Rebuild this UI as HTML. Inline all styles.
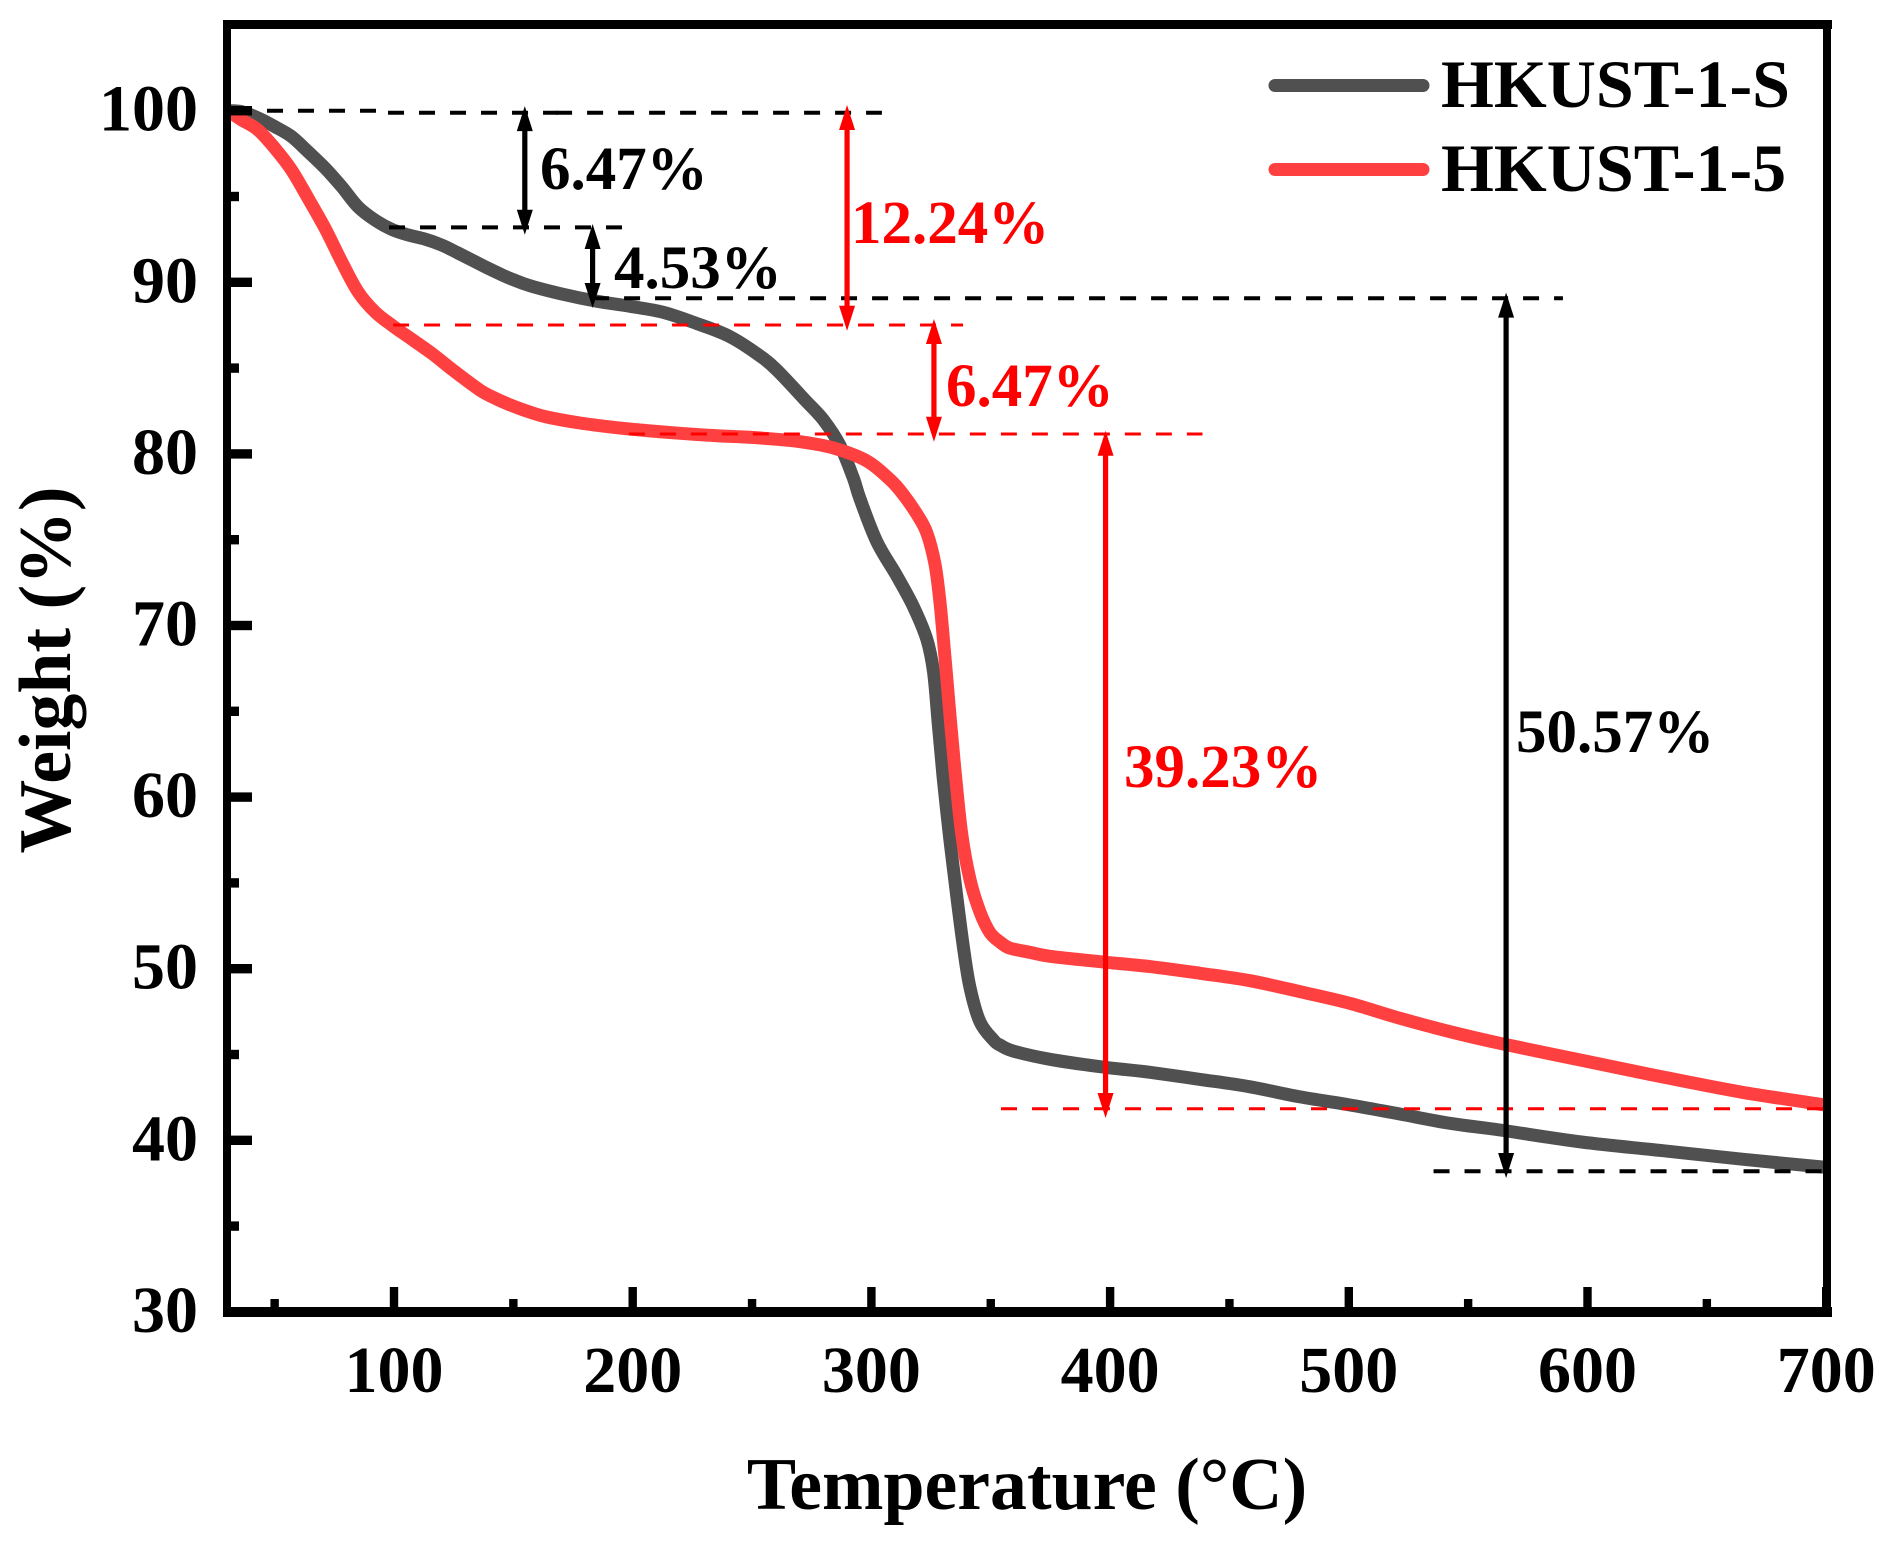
<!DOCTYPE html>
<html lang="en">
<head>
<meta charset="utf-8">
<title>TGA curves of HKUST-1-S and HKUST-1-5</title>
<style>
html,body{margin:0;padding:0;background:#fff;}
svg{display:block;}
text{font-family:"Liberation Serif",serif;font-weight:bold;fill:#000;}
.tick{font-size:66px;}
.leg{font-size:68px;}
.ann{font-size:61px;}
.title{font-size:73.8px;}
.red{fill:#f00;}
</style>
</head>
<body>
<svg id="chart" xmlns="http://www.w3.org/2000/svg" width="1890" height="1548" viewBox="0 0 1890 1548">
  <defs><clipPath id="plot-clip"><rect x="231" y="29" width="1592" height="1278"/></clipPath></defs>
  <rect width="1890" height="1548" fill="#fff"/>
  <g id="series" clip-path="url(#plot-clip)"></g>
  <g id="annotations"></g>
  <g id="ticks"></g>
  <g fill="#000">
    <rect x="223" y="20" width="8" height="1297"/>
    <rect x="1823" y="20" width="8" height="1297"/>
    <rect x="223" y="20" width="1609" height="9"/>
    <rect x="223" y="1307" width="1609" height="10"/>
  </g>
  <text class="title" x="1027" y="1509" text-anchor="middle">Temperature (°C)</text>
  <text class="title" transform="translate(70 670) rotate(-90)" text-anchor="middle">Weight (%)</text>
  <g>
    <line x1="1275" y1="85.5" x2="1423" y2="85.5" stroke="#505050" stroke-width="13" stroke-linecap="round"/>
    <text class="leg" x="1441" y="107">HKUST-1-S</text>
    <line x1="1275" y1="169.5" x2="1423" y2="169.5" stroke="#ff4040" stroke-width="13" stroke-linecap="round"/>
    <text class="leg" x="1441" y="191">HKUST-1-5</text>
  </g>
  <g>
    <text class="ann" x="540" y="189">6.47%</text>
    <text class="ann" x="614" y="288">4.53%</text>
    <text class="ann red" x="851" y="243">12.24%</text>
    <text class="ann red" x="946" y="406">6.47%</text>
    <text class="ann red" x="1124" y="787">39.23%</text>
    <text class="ann" x="1516" y="752">50.57%</text>
  </g>
</svg>
<script>
var grayTemps = [31,36.2,43,50.1,57.1,64,71.1,78.1,84.9,92,99,105.9,113,120,126.8,138.1,145,150,157,170.9,184.9,198.9,212.8,226.8,240.8,254.7,261.7,272.2,279.9,286.8,292.4,295.2,302.2,310.6,317.6,323.2,326,328,330.1,332.9,335.7,338.5,341.3,345.5,351.1,353.9,359.5,374.8,395.8,416.7,437.7,458.6,479.6,500.5,521.4,542.4,563.3,597.5,631.1,664.8,700];
var grayWeights = [100,99.94,99.58,99.07,98.49,97.61,96.66,95.57,94.4,93.63,93.09,92.76,92.52,92.17,91.71,90.91,90.45,90.15,89.8,89.3,88.9,88.6,88.25,87.6,86.83,85.57,84.7,83.14,81.98,80.5,78.6,77.4,74.9,72.9,71.1,69.2,67.3,64.3,61.1,57.5,54.3,51.3,48.9,46.9,45.85,45.55,45.2,44.72,44.29,43.96,43.55,43.12,42.53,42.06,41.53,40.99,40.6,39.9,39.4,38.9,38.42];
var redTemps = [31,32,36.2,43,50.1,57.1,64,71.1,78.1,84.9,92,99,105.9,115.8,125,136,143,150,157,164,177.9,191.9,205.9,219.8,233.8,247.8,256.1,270.1,283.9,298,307.8,313,319,323.2,326.6,328.7,330.8,332.9,335,337.8,341.3,345.5,349.7,353.9,358,366.5,374.8,395.8,416.7,437.7,458.6,479.6,500.5,521.4,542.4,563.3,597.5,631.1,664.8,700];
var redWeights = [99.9,99.85,99.46,98.88,97.81,96.54,94.9,93.15,91.2,89.45,88.28,87.51,86.83,85.86,84.85,83.72,83.2,82.78,82.43,82.15,81.8,81.55,81.36,81.2,81.07,80.98,80.9,80.71,80.35,79.6,78.5,77.7,76.5,75.4,73.6,71.4,68.2,64.8,61.6,57.9,55.2,53.3,52.1,51.55,51.2,50.95,50.72,50.41,50.12,49.73,49.3,48.66,47.98,47.11,46.33,45.65,44.66,43.7,42.8,42.05];
var xMajorTicks = [100,200,300,400,500,600,700];
var xMinorTicks = [50,150,250,350,450,550,650];
var yMajorTicks = [30,40,50,60,70,80,90,100];
var yMinorTicks = [35,45,55,65,75,85,95];
var refStartT = [46.8,97.5,167.9,97.9,183.4,535.5,99.6,198.4,354.3];
var refEndT = [92.9,168.7,304.4,196.8,589.7,698.7,338.4,438.7,699.5];
var refWeight = [100,99.88,99.88,93.2,89.07,38.2,87.51,81.16,41.84];
var refIsRed = [0,0,0,0,0,0,1,1,1];
var arrowT = [154.8,183.2,565.9,289.8,326.2,398.1];
var arrowTopW = [100.27,93.4,89.4,100.33,87.86,81.35];
var arrowBottomW = [92.77,88.5,37.8,87.18,80.71,41.3];
var arrowIsRed = [0,0,0,1,1,1];

var NS = 'http://www.w3.org/2000/svg';
function x(t){ return 394 + (t - 100) * 2.387; }
function y(w){ return 110.7 + (100 - w) * 17.16; }
function smoothPath(ts, ws){
  var p = ts.map(function(t, i){ return [x(t), y(ws[i])]; });
  var d = 'M' + p[0][0].toFixed(1) + ' ' + p[0][1].toFixed(1);
  for (var i = 0; i < p.length - 1; i++) {
    var a = p[Math.max(i - 1, 0)], b = p[i], c = p[i + 1], e = p[Math.min(i + 2, p.length - 1)];
    d += 'C' + (b[0] + (c[0] - a[0]) / 6).toFixed(1) + ' ' + (b[1] + (c[1] - a[1]) / 6).toFixed(1) + ' ' +
         (c[0] - (e[0] - b[0]) / 6).toFixed(1) + ' ' + (c[1] - (e[1] - b[1]) / 6).toFixed(1) + ' ' +
         c[0].toFixed(1) + ' ' + c[1].toFixed(1);
  }
  return d;
}
function make(tag, attrs, parent){
  var el = document.createElementNS(NS, tag);
  for (var k in attrs) { el.setAttribute(k, attrs[k]); }
  parent.appendChild(el);
  return el;
}
var seriesLayer = document.getElementById('series');
var annLayer = document.getElementById('annotations');
var tickLayer = document.getElementById('ticks');

var grayLine = make('path', {d: smoothPath(grayTemps, grayWeights), fill: 'none', stroke: '#505050', 'stroke-width': 13, 'stroke-linejoin': 'round'}, seriesLayer);


var redLine = make('path', {d: smoothPath(redTemps, redWeights), fill: 'none', stroke: '#ff4040', 'stroke-width': 13, 'stroke-linejoin': 'round'}, seriesLayer);



refWeight.forEach(function(w, i){
  var red = refIsRed[i];
  var ln = make('line', {x1: x(refStartT[i]), x2: x(refEndT[i]), y1: y(w), y2: y(w), stroke: red ? '#f00' : '#000', 'stroke-width': red ? 3 : 4, 'stroke-dasharray': '16 15'}, annLayer);
  
  
});
arrowT.forEach(function(t, i){
  var col = arrowIsRed[i] ? '#f00' : '#000';
  var cx = x(t), top = y(arrowTopW[i]), bot = y(arrowBottomW[i]);
  var g = make('g', {fill: col}, annLayer);
  
  
  make('rect', {x: cx - 2.6, y: top + 10, width: 5.2, height: bot - top - 20}, g);
  make('polygon', {points: cx + ',' + top + ' ' + (cx + 8) + ',' + (top + 25) + ' ' + (cx - 8) + ',' + (top + 25)}, g);
  make('polygon', {points: cx + ',' + bot + ' ' + (cx + 8) + ',' + (bot - 25) + ' ' + (cx - 8) + ',' + (bot - 25)}, g);
});
xMajorTicks.forEach(function(t){
  var r = make('rect', {x: x(t) - 4.2, y: 1287, width: 8.4, height: 20}, tickLayer);
  
  
  var l = make('text', {'class': 'tick', x: x(t), y: 1392, 'text-anchor': 'middle'}, tickLayer);
  
  
  l.textContent = t;
});
xMinorTicks.forEach(function(t){
  var r = make('rect', {x: x(t) - 4.2, y: 1299, width: 8.4, height: 8}, tickLayer);
  
  
});
yMajorTicks.forEach(function(w){
  var r = make('rect', {x: 231, y: y(w) - 4.7, width: 21, height: 9.4}, tickLayer);
  
  
  var l = make('text', {'class': 'tick', x: 198, y: y(w) + 20, 'text-anchor': 'end'}, tickLayer);
  
  
  l.textContent = w;
});
yMinorTicks.forEach(function(w){
  var r = make('rect', {x: 231, y: y(w) - 4.7, width: 8, height: 9.4}, tickLayer);
  
  
});
</script>
</body>
</html>
